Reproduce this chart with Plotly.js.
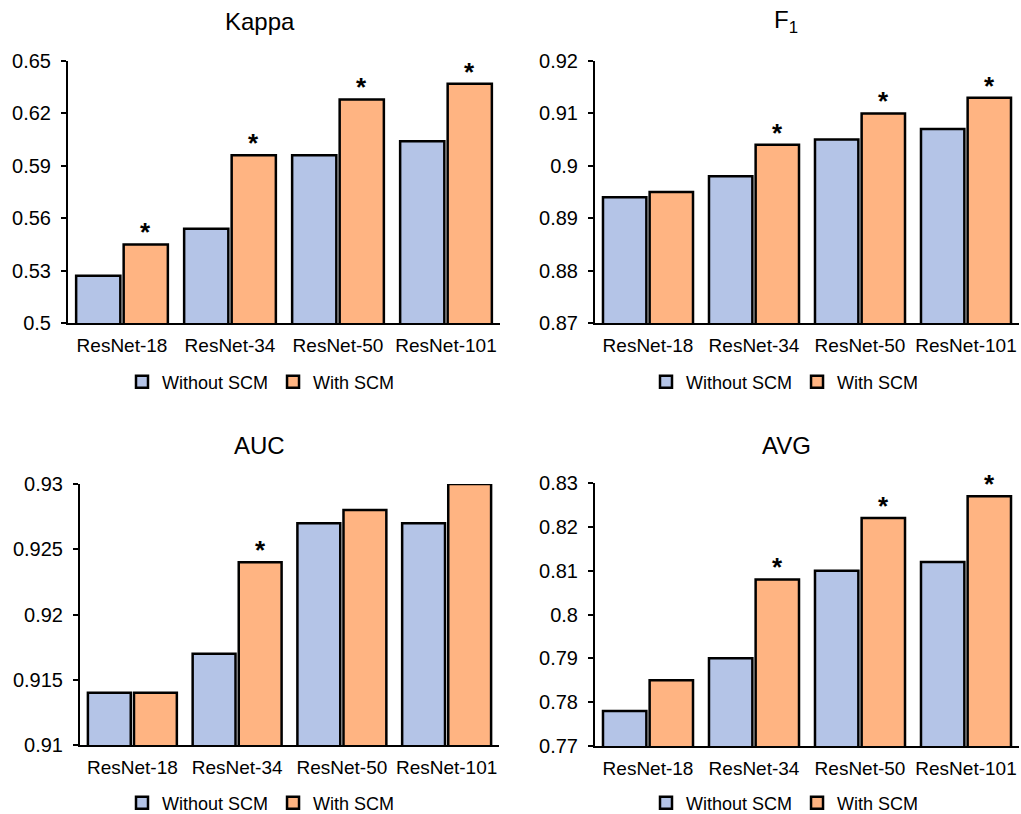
<!DOCTYPE html>
<html>
<head>
<meta charset="utf-8">
<script src="https://cdn.plot.ly/plotly-3.0.1.min.js"></script>
<style>html,body{margin:0;padding:0;background:#fff;}#chart{width:1021px;height:814px;}</style>
</head>
<body>
<div id="chart"></div>
<script>
const categories = ['ResNet-18', 'ResNet-34', 'ResNet-50', 'ResNet-101'];
const seriesNames = ['Without SCM', 'With SCM'];

const kappaWithout = [0.527, 0.554, 0.596, 0.604];
const kappaWith    = [0.545, 0.596, 0.628, 0.637];
const kappaSig     = [1, 1, 1, 1];
const kappaTicks   = [0.5, 0.53, 0.56, 0.59, 0.62, 0.65];
const kappaTickText = ['0.5', '0.53', '0.56', '0.59', '0.62', '0.65'];

const f1Without = [0.894, 0.898, 0.905, 0.907];
const f1With    = [0.895, 0.904, 0.910, 0.913];
const f1Sig     = [0, 1, 1, 1];
const f1Ticks   = [0.87, 0.88, 0.89, 0.90, 0.91, 0.92];
const f1TickText = ['0.87', '0.88', '0.89', '0.9', '0.91', '0.92'];

const aucWithout = [0.914, 0.917, 0.927, 0.927];
const aucWith    = [0.914, 0.924, 0.928, 0.930];
const aucSig     = [0, 1, 0, 0];
const aucTicks   = [0.91, 0.915, 0.92, 0.925, 0.93];
const aucTickText = ['0.91', '0.915', '0.92', '0.925', '0.93'];

const avgWithout = [0.778, 0.790, 0.810, 0.812];
const avgWith    = [0.785, 0.808, 0.822, 0.827];
const avgSig     = [0, 1, 1, 1];
const avgTicks   = [0.77, 0.78, 0.79, 0.80, 0.81, 0.82, 0.83];
const avgTickText = ['0.77', '0.78', '0.79', '0.8', '0.81', '0.82', '0.83'];

const titles = ['Kappa', 'F<sub>1</sub>', 'AUC', 'AVG'];

const W = 1021, H = 814;
const FONT = 'Liberation Sans, Arial, sans-serif';
const BLUE = '#B4C4E7';
const ORANGE = '#FFB482';
const BARGAP = 0.12;

const panels = [
  {wo: kappaWithout, wi: kappaWith, sig: kappaSig, ticks: kappaTicks, tt: kappaTickText,
   px: [68, 500], py: [61, 323], title: [260, 22], leg: [261, 382]},
  {wo: f1Without, wi: f1With, sig: f1Sig, ticks: f1Ticks, tt: f1TickText,
   px: [595, 1019], py: [61, 323], title: [786, 22], leg: [785, 382]},
  {wo: aucWithout, wi: aucWith, sig: aucSig, ticks: aucTicks, tt: aucTickText,
   px: [80, 499], py: [484, 745], title: [259, 445], leg: [261, 803]},
  {wo: avgWithout, wi: avgWith, sig: avgSig, ticks: avgTicks, tt: avgTickText,
   px: [595, 1019], py: [483, 746], title: [786, 445], leg: [785, 803]}
];

const data = [];
const layout = {
  width: W, height: H,
  margin: {l: 0, r: 0, t: 0, b: 0, pad: 0, autoexpand: false},
  paper_bgcolor: '#fff', plot_bgcolor: '#fff',
  font: {family: FONT, color: '#000'},
  barmode: 'group', bargap: BARGAP, bargroupgap: 0.07,
  annotations: [], showlegend: true
};

panels.forEach((p, i) => {
  const n = i + 1;
  const xa = 'x' + (n === 1 ? '' : n), ya = 'y' + (n === 1 ? '' : n);
  const legName = 'legend' + (n === 1 ? '' : n);
  const common = {type: 'bar', x: categories, xaxis: xa, yaxis: ya, legend: legName,
                  hoverinfo: 'skip'};
  data.push(Object.assign({}, common, {name: seriesNames[0], y: p.wo,
    marker: {color: BLUE, line: {color: '#000', width: 2.5}}}));
  data.push(Object.assign({}, common, {name: seriesNames[1], y: p.wi,
    marker: {color: ORANGE, line: {color: '#000', width: 2.5}}}));

  const lo = p.ticks[0], hi = p.ticks[p.ticks.length - 1];
  layout['xaxis' + (n === 1 ? '' : n)] = {
    domain: [p.px[0] / W, p.px[1] / W], anchor: ya,
    type: 'category', range: [-0.5, categories.length - 0.5],
    showline: true, linecolor: '#000', linewidth: 2, ticks: '',
    showgrid: false, zeroline: false, fixedrange: true, automargin: false,
    tickfont: {family: FONT, size: 19, color: '#000'}, ticklabelstandoff: 4
  };
  layout['yaxis' + (n === 1 ? '' : n)] = {
    domain: [1 - p.py[1] / H, 1 - p.py[0] / H], anchor: xa,
    range: [lo, hi], tickvals: p.ticks, ticktext: p.tt,
    showline: true, linecolor: '#000', linewidth: 2,
    ticks: 'outside', ticklen: 5, tickwidth: 2, tickcolor: '#000',
    showgrid: false, zeroline: false, fixedrange: true, automargin: false,
    tickfont: {family: FONT, size: 20, color: '#000'}, ticklabelstandoff: 6
  };
  layout[legName] = {
    orientation: 'h', x: p.leg[0] / W, xanchor: 'center',
    y: 1 - p.leg[1] / H, yanchor: 'middle',
    font: {family: FONT, size: 18, color: '#000'},
    bgcolor: 'rgba(0,0,0,0)', itemclick: false, itemdoubleclick: false,
    itemwidth: 30, traceorder: 'normal'
  };
  layout.annotations.push({
    xref: 'paper', yref: 'paper', x: p.title[0] / W, y: 1 - p.title[1] / H,
    xanchor: 'center', yanchor: 'middle', showarrow: false, text: titles[i],
    font: {family: FONT, size: 24, color: '#000'}
  });
  p.sig.forEach((s, k) => {
    if (!s) return;
    layout.annotations.push({
      xref: xa, yref: ya, x: k + (1 - BARGAP) / 4, y: p.wi[k],
      xanchor: 'center', yanchor: 'bottom', yshift: -5, showarrow: false,
      text: '<b>*</b>', font: {family: FONT, size: 26, color: '#000'}
    });
  });
});

Plotly.newPlot('chart', data, layout, {displayModeBar: false, staticPlot: true});
</script>
</body>
</html>
